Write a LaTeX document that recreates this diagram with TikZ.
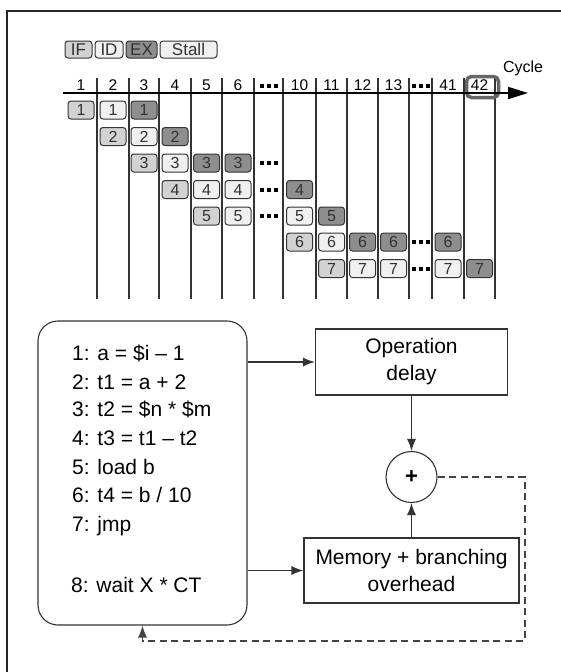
\documentclass[tikz,border=0pt]{standalone}
\usepackage{fontspec}
\setmainfont{Liberation Sans}
\usetikzlibrary{arrows.meta}
\definecolor{ifc}{HTML}{D2D2D2}
\definecolor{idc}{HTML}{F0F0F0}
\definecolor{exc}{HTML}{8E8E8E}
\definecolor{ln}{HTML}{333333}
\definecolor{hlc}{HTML}{666666}
\definecolor{dsh}{HTML}{444444}
\newcommand\tridots{\rule{4pt}{4pt}\hspace{3pt}\rule{4pt}{4pt}\hspace{3pt}\rule{4pt}{4pt}}
\begin{document}
\begin{tikzpicture}[x=1pt,y=-1pt,
  pbox/.style={draw=ln, line width=1pt, rounded corners=3pt, minimum width=26pt,
    minimum height=18pt, inner sep=0pt, text height=11.4pt, text depth=0pt,
    font=\fontsize{16}{16}\selectfont, text=ln},
  ifb/.style={pbox, fill=ifc},
  idb/.style={pbox, fill=idc},
  exb/.style={pbox, fill=exc},
  legb/.style={draw=ln, line width=1pt, rounded corners=3pt, minimum height=17pt,
    inner sep=0pt, text height=12pt, text depth=0pt,
    font=\fontsize{17}{17}\selectfont, text=ln},
  hdr/.style={anchor=base, inner sep=0pt, font=\fontsize{15.5}{15.5}\selectfont},
  tdots/.style={inner sep=0pt},
  divline/.style={draw=ln, line width=1.1pt},
  codeline/.style={anchor=base west, inner sep=0pt, font=\fontsize{21}{25}\selectfont},
  blk/.style={draw=ln, line width=1.1pt, align=center, inner sep=0pt,
    font=\fontsize{21}{27}\selectfont},
  arr/.style={draw=ln, line width=1.2pt, -{Latex[length=12pt,width=9pt]}},
  fb/.style={draw=dsh, line width=1.2pt, dash pattern=on 7pt off 4.5pt,
    -{Latex[length=12pt,width=9pt]}},
]
\useasboundingbox (0,0) rectangle (561,672);
\clip (0,0) rectangle (561,672);
\fill[white] (0,0) rectangle (561,672);

% frame
\draw[draw=black!85, line width=1.2pt] (7,672) -- (7,11) -- (561,11);

% legend
\node[legb, fill=ifc, minimum width=27pt] (lif) at (78.5,49.5) {IF};
\node[legb, fill=idc, minimum width=28pt] (lid) at (109,49.5) {ID};
\node[legb, fill=exc, minimum width=31pt] (lex) at (141.5,49.5) {EX};
\node[legb, fill=idc, minimum width=57pt] (lst) at (188.5,49.5) {Stall};

% column dividers
\foreach \x in {97,129,159,191,222,254,283,316,347,378,409,432,464,495}
  \draw[divline] (\x,78) -- (\x,299);

% header labels
\foreach \x/\t in {81/1,113/2,144/3,175/4,206.5/5,238/6,299.5/10,331.5/11,362.5/12,393.5/13,448/41,479.5/42}
  \node[hdr] (h\t) at (\x,90.5) {\t};
\node[tdots] (hd1) at (268.5,86) {\tridots};
\node[tdots] (hd2) at (420.5,86) {\tridots};

% highlight of cycle 42
\node[draw=hlc, line width=3.5pt, rounded corners=5pt, minimum width=32pt,
  minimum height=21pt, inner sep=0pt] (hl) at (482.5,87) {};

% axis
\coordinate (ax0) at (63,93);
\coordinate (ax1) at (528,93);
\draw[line width=2pt, -{Triangle[length=20pt,width=12pt]}] (ax0) -- (ax1);
\node[font=\fontsize{16}{16}\selectfont, inner sep=0pt] (cyc) at (523,68) {Cycle};

% pipeline boxes
\foreach \n/\y/\x/\s [count=\k] in {
  1/110/81/ifb, 1/110/113/idb, 1/110/144/exb,
  2/136.5/113/ifb, 2/136.5/144/idb, 2/136.5/175/exb,
  3/163/144/ifb, 3/163/175/idb, 3/163/206.5/exb, 3/163/238/exb,
  4/189.5/175/ifb, 4/189.5/206.5/idb, 4/189.5/238/idb, 4/189.5/299.5/exb,
  5/216/206.5/ifb, 5/216/238/idb, 5/216/299.5/idb, 5/216/331.5/exb,
  6/242/299.5/ifb, 6/242/331.5/idb, 6/242/362.5/exb, 6/242/393.5/exb, 6/242/448/exb,
  7/268.5/331.5/ifb, 7/268.5/362.5/idb, 7/268.5/393.5/idb, 7/268.5/448/idb, 7/268.5/479.5/exb}
  \node[\s] (b\k) at (\x,\y) {\n};
\node[tdots] (rd1) at (268.5,163) {\tridots};
\node[tdots] (rd2) at (268.5,189.5) {\tridots};
\node[tdots] (rd3) at (268.5,216) {\tridots};
\node[tdots] (rd4) at (420.5,242) {\tridots};
\node[tdots] (rd5) at (420.5,268.5) {\tridots};

% code box
\node[draw=ln, line width=1.1pt, rounded corners=20pt, minimum width=209pt,
  minimum height=304pt, inner sep=0pt] (code) at (142.5,473) {};
\node[codeline] (l1) at (72,360) {1: a = \$i – 1};
\node[codeline] (l2) at (72,389) {2: t1 = a + 2};
\node[codeline] (l3) at (72,416.5) {3: t2 = \$n * \$m};
\node[codeline] (l4) at (72,445) {4: t3 = t1 – t2};
\node[codeline] (l5) at (72,474) {5: load b};
\node[codeline] (l6) at (72,502.5) {6: t4 = b / 10};
\node[codeline] (l7) at (72,531) {7: jmp};
\node[codeline] (l8) at (71,592) {8: wait X * CT};

% blocks
\node[blk, minimum width=192pt, minimum height=66pt] (op) at (411.5,362) {Operation\\delay};
\node[blk, minimum width=215pt, minimum height=65pt] (mem) at (411.5,570.5) {Memory + branching\\overhead};
\node[draw=ln, line width=1.1pt, circle, minimum size=51pt, inner sep=0pt,
  font=\fontsize{22}{22}\selectfont\bfseries] (plus) at (411.5,477) {+};

% connectors
\draw[arr] (code.east |- op.west) -- (op.west);
\draw[arr] (code.east |- mem.west) -- (mem.west);
\draw[arr] (op.south) -- (plus.north);
\draw[arr] (mem.north) -- (plus.south);
\coordinate (fbr) at (525,641);
\coordinate (fbl) at (code.south |- fbr);
\draw[fb] (plus.east) -| (fbr) -- (fbl) -- (code.south);
\end{tikzpicture}
\end{document}
